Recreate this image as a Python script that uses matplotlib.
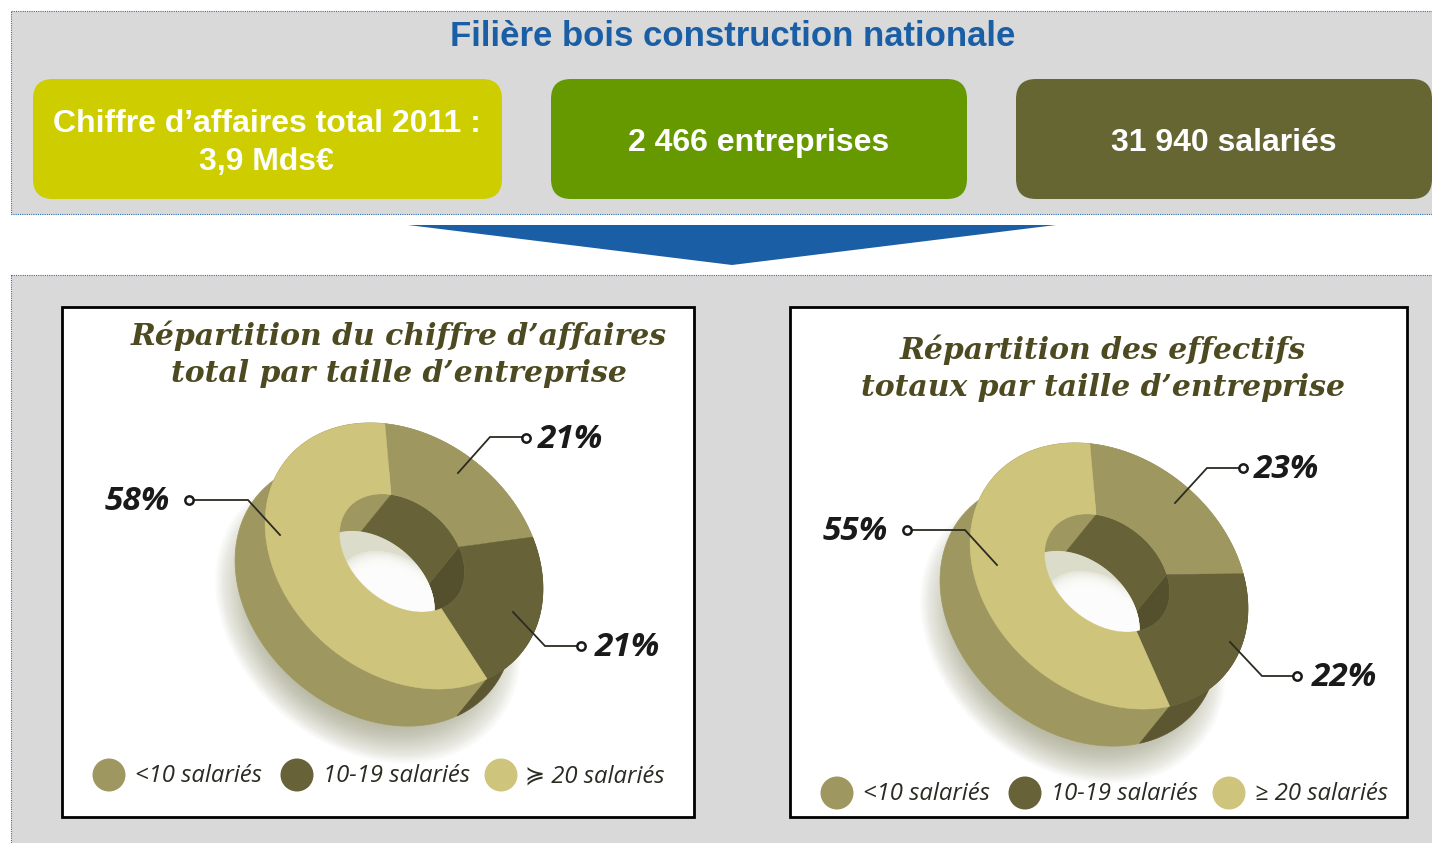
import numpy as np
import matplotlib
matplotlib.use('Agg')
import matplotlib.pyplot as plt
from matplotlib.patches import FancyBboxPatch, Polygon, Rectangle, Circle

header_title = 'Filière bois construction nationale'
box_labels = ['Chiffre d’affaires total 2011 :\n3,9 Mds€', '2 466 entreprises', '31 940 salariés']
box_colors = ['#cdcd00', '#669900', '#666633']

title_ca = 'Répartition du chiffre d’affaires\ntotal par taille d’entreprise'
title_eff = 'Répartition des effectifs\ntotaux par taille d’entreprise'
# order: <10, 10-19, >=20
shares_ca = [21, 21, 58]
shares_eff = [23, 22, 55]
legend_ca = ['<10 salariés', '10-19 salariés', '≽ 20 salariés']
legend_eff = ['<10 salariés', '10-19 salariés', '≥ 20 salariés']

face_cols = ['#9e9860', '#676238', '#cfc47c']
side_cols = ['#9e9860', '#5c5731', '#9e9860']   # outer wall
wall_cols = ['#676238', '#544f2c', '#9e9860']   # wall of the hole
title_col = '#4d4a22'
label_col = '#1a1a1a'

fig = plt.figure(figsize=(14.32, 8.43), dpi=100)
ax = fig.add_axes([0, 0, 1, 1])
ax.set_xlim(0, 1432)
ax.set_ylim(843, 0)
ax.axis('off')

TILT = np.radians(40)
U = np.array([np.cos(TILT), np.sin(TILT)])  # major axis, pointing down-right
V = np.array([np.sin(TILT), -np.cos(TILT)])  # minor axis, pointing up-right
DEPTH = np.array([-30, 37])
A_OUT, B_OUT = 152, 118
A_IN, B_IN = 70, 50
IN_SHIFT = np.array([-2, -3])
START = 131
serif = 'DejaVu Serif'
sans_it = ['Open Sans', 'DejaVu Sans']


def ell(c, a, b, t):
    # points of the tilted ellipse for angles t (degrees)
    t = np.radians(t)
    return np.array(c) + np.outer(a * np.cos(t), U) + np.outer(b * np.sin(t), V)


def panel(y0, y1):
    ax.add_patch(Rectangle((10.5, y0), 1440, y1 - y0, fc='#d9d9d9', ec='#2f6db3', lw=0.8, ls=(0, (1, 1))))


def shadow(c):
    for i in range(24):
        k = 1.10 - i * 0.012
        pts = ell(np.array(c) + DEPTH + np.array([-6, 24]), A_OUT * k, B_OUT * k, np.arange(0, 361, 4))
        ax.add_patch(Polygon(pts, fc='#8d8d68', ec='none', alpha=0.03))


def donut(c, shares):
    shadow(c)
    c_in = np.array(c) + IN_SHIFT
    angles = START - np.cumsum([0] + list(shares)) * 3.6
    arcs = [np.linspace(angles[i], angles[i + 1], 90) for i in range(3)]
    # outer wall
    for i in [2, 1, 0]:
        a = ell(c, A_OUT, B_OUT, arcs[i])
        ax.add_patch(Polygon(np.vstack([a, (a + DEPTH)[::-1]]), fc=side_cols[i], ec=side_cols[i], lw=0.5))
    # hole: walls first, then what you see through, the faces cover the rest
    for i in [2, 1, 0]:
        a = ell(c_in, A_IN, B_IN, arcs[i])
        ax.add_patch(Polygon(np.vstack([a, (a + DEPTH)[::-1]]), fc=wall_cols[i], ec=wall_cols[i], lw=0.3))
    through = Polygon(ell(c_in + DEPTH, A_IN, B_IN, np.arange(0, 361, 3)), fc='#dcdccb', ec='none')
    ax.add_patch(through)
    for i in range(14):
        k = 1.0 - i * 0.035
        g = Polygon(ell(c_in + DEPTH + np.array([24, 20]), A_IN * k, B_IN * k, np.arange(0, 361, 3)),
                    fc='white', ec='none', alpha=0.3)
        ax.add_patch(g)
        g.set_clip_path(through)
    # faces
    for i in range(3):
        a = ell(c, A_OUT, B_OUT, arcs[i])
        b = ell(c_in, A_IN, B_IN, arcs[i])
        ax.add_patch(Polygon(np.vstack([a, b[::-1]]), fc=face_cols[i], ec=face_cols[i], lw=0.3))


def leader(xs, ys, mx, my, txt, tx, ty):
    ax.plot(xs, ys, color='#2b2b22', lw=1.3, solid_joinstyle='miter', zorder=5)
    ax.plot([mx], [my], 'o', ms=6, mfc='white', mec='#1a1a1a', mew=1.8, zorder=6)
    ax.text(tx, ty, txt, ha='left', va='center', fontsize=24, fontfamily=sans_it, fontweight='bold',
            fontstyle='italic', color=label_col, zorder=6)


def legend(xs_c, xs_t, y, labels):
    for i in range(3):
        ax.add_patch(Circle((xs_c[i], y), 16.5, fc=face_cols[i], ec='none'))
        ax.text(xs_t[i], y + 1, labels[i], ha='left', va='center', fontsize=17.2, fontfamily=sans_it,
                fontstyle='italic', color='#2b2b22')


panel(11, 214)
panel(275, 860)
ax.text(733, 36, header_title, ha='center', va='center', fontsize=25, fontweight='bold',
        fontfamily='Liberation Sans', color='#1a5ea5')

for (x0, x1), col, lab in zip([(33, 502), (551, 967), (1016, 1432)], box_colors, box_labels):
    ax.add_patch(FancyBboxPatch((x0, 79), x1 - x0, 120, boxstyle='round,pad=0,rounding_size=20', fc=col, ec='none'))
    ax.text((x0 + x1) / 2 - (1 if x0 < 100 else 0), 143, lab, ha='center', va='center', fontsize=23, fontweight='bold',
            fontfamily='Liberation Sans', color='white', linespacing=1.38)

ax.add_patch(Polygon([(408, 225), (1056, 225), (732, 265)], fc='#1a5ea5', ec='none'))

ax.add_patch(Rectangle((62, 307), 632, 510, fc='white', ec='black', lw=2))
ax.add_patch(Rectangle((790, 307), 617, 510, fc='white', ec='black', lw=2))

ax.text(399, 354, title_ca, ha='center', va='center', fontsize=21.5, fontfamily=serif, fontweight='bold',
        fontstyle='italic', color=title_col, linespacing=1.36)
ax.text(1103, 368, title_eff, ha='center', va='center', fontsize=21.5, fontfamily=serif, fontweight='bold',
        fontstyle='italic', color=title_col, linespacing=1.36)

donut((404, 556), shares_ca)
donut((1109, 576), shares_eff)

leader([458, 490, 522], [473, 437, 437], 526, 438, '21%', 538, 439)
leader([280, 248, 193], [535, 500, 500], 189, 500, '58%', 105, 501)
leader([513, 545, 578], [612, 646, 646], 581, 646, '21%', 595, 648)
leader([1175, 1207, 1238], [503, 468, 468], 1243, 468, '23%', 1254, 469)
leader([997, 965, 911], [565, 530, 530], 907, 530, '55%', 823, 531)
leader([1230, 1262, 1293], [642, 676, 676], 1297, 676, '22%', 1312, 678)

legend([109, 297, 501], [135, 323, 525], 775, legend_ca)
legend([837, 1025, 1229], [863, 1051, 1255], 793, legend_eff)

fig.savefig('out.png', dpi=100)
